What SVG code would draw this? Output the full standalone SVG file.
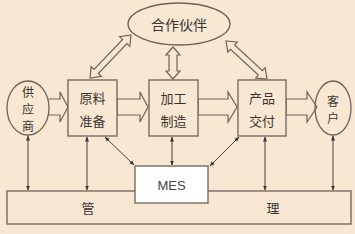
<svg xmlns="http://www.w3.org/2000/svg" width="355" height="234" viewBox="0 0 355 234">
<style>
.bg{fill:#f8e8d3}
.box{fill:#f8e8d3;stroke:#6e6158;stroke-width:1.3}
.mes{fill:#ffffff;stroke:#6e6158;stroke-width:1.3}
.blk{fill:#f8e8d3;stroke:#6e6158;stroke-width:1.2;stroke-linejoin:miter}
.ln{stroke:#4a403a;stroke-width:1;fill:none;marker-start:url(#ah);marker-end:url(#ah)}
text{font-family:"Noto Sans CJK SC","Liberation Sans",sans-serif;font-size:13px;fill:#3a3430;text-anchor:middle;dominant-baseline:central}
.v{font-size:12px}
.en{font-family:"Liberation Sans",Arial,sans-serif;font-size:13px;fill:#444}
</style>
<defs>
<marker id="ah" viewBox="0 0 10 10" refX="9" refY="5" markerWidth="5" markerHeight="5" orient="auto-start-reverse" markerUnits="userSpaceOnUse">
<path d="M0,1 L10,5 L0,9 Z" fill="#3a3430"/>
</marker>
</defs>
<rect class="bg" x="0" y="0" width="355" height="234"/>

<g id="mgmt">
<rect class="box" x="7" y="191" width="344" height="33"/>
<text x="88" y="207">管</text>
<text x="273" y="207">理</text>
</g>

<g id="connectors">
<line class="ln" x1="28" y1="136" x2="28" y2="190"/>
<line class="ln" x1="87" y1="137" x2="87" y2="190"/>
<line class="ln" x1="105" y1="137" x2="134" y2="165"/>
<line class="ln" x1="172" y1="137" x2="172" y2="165"/>
<line class="ln" x1="239" y1="137" x2="210" y2="166"/>
<line class="ln" x1="265" y1="137" x2="265" y2="190"/>
<line class="ln" x1="333" y1="136" x2="333" y2="190"/>
<polygon class="blk" points="45,99 60,99 60,92 68,107 60,122 60,115 45,115"/>
<polygon class="blk" points="117,99 140,99 140,92 148,107 140,122 140,115 117,115"/>
<polygon class="blk" points="198,99 228,99 228,92 237,107 228,122 228,115 198,115"/>
<polygon class="blk" points="286,99 307,99 307,92 317,107 307,122 307,115 286,115"/>
<polygon class="blk" transform="translate(173,47) rotate(90)" points="0,0 8,-7 8,-4 24,-4 24,-7 32,0 24,7 24,4 8,4 8,7"/>
<polygon class="blk" transform="translate(90,78) rotate(-46.4)" points="0,0 9,-7 9,-3 50.4,-3 50.4,-7 59.4,0 50.4,7 50.4,3 9,3 9,7"/>
<polygon class="blk" transform="translate(226,41) rotate(42.8)" points="0,0 9,-7 9,-3 46.9,-3 46.9,-7 55.9,0 46.9,7 46.9,3 9,3 9,7"/>
</g>

<g id="mes">
<rect class="mes" x="135" y="166" width="73" height="37"/>
<text class="en" x="171.5" y="185">MES</text>
</g>

<g id="partner">
<ellipse class="box" cx="179" cy="24" rx="51" ry="21"/>
<text x="179" y="24" style="font-size:14px">合作伙伴</text>
</g>

<g id="supplier">
<ellipse class="box" cx="28" cy="108" rx="21" ry="27"/>
<text class="v" x="28" y="91">供</text>
<text class="v" x="28" y="108">应</text>
<text class="v" x="28" y="125">商</text>
</g>

<g id="material">
<rect class="box" x="68" y="80" width="49" height="56"/>
<text x="92.5" y="97">原料</text>
<text x="92.5" y="120">准备</text>
</g>

<g id="process">
<rect class="box" x="149" y="80" width="49" height="56"/>
<text x="173.5" y="97">加工</text>
<text x="173.5" y="120">制造</text>
</g>

<g id="delivery">
<rect class="box" x="238" y="80" width="48" height="56"/>
<text x="262" y="97">产品</text>
<text x="262" y="120">交付</text>
</g>

<g id="customer">
<ellipse class="box" cx="333" cy="108" rx="18" ry="27" style="fill:none"/>
<text class="v" x="333" y="100">客</text>
<text class="v" x="333" y="117">户</text>
</g>
</svg>
